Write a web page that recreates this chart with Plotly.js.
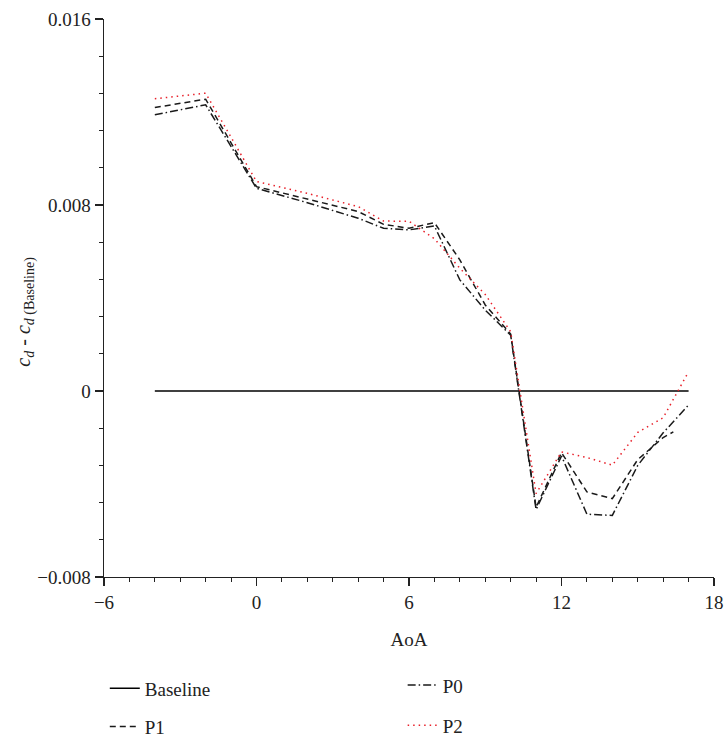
<!DOCTYPE html>
<html>
<head>
<meta charset="utf-8">
<script src="https://cdn.plot.ly/plotly-3.0.1.min.js"></script>
<style>html,body{margin:0;padding:0;background:#fff;}#chart{width:728px;height:744px;}</style>
</head>
<body>
<div id="chart"></div>
<script>
// Data (drag coefficient difference vs angle of attack)
const aoaBaseline = [-4, 17];
const baseline = [0, 0];

const aoaP0 = [-4, -2, 0, 2, 4, 5, 6, 7, 8, 9, 10, 11, 12, 13, 14, 15, 16, 17];
const p0 = [0.01188, 0.01231, 0.00872, 0.00810, 0.00743, 0.00700, 0.00693, 0.00710, 0.00478, 0.00348, 0.00240,
            -0.00510, -0.00280, -0.00530, -0.00535, -0.00320, -0.00180, -0.00060];

const aoaP1 = [-4, -2, 0, 2, 4, 5, 6, 7, 8, 9, 10, 11, 12, 13, 14, 15, 16, 16.4];
const p1 = [0.01219, 0.01255, 0.00879, 0.00825, 0.00772, 0.00717, 0.00700, 0.00724, 0.00564, 0.00370, 0.00245,
            -0.00500, -0.00265, -0.00434, -0.00463, -0.00295, -0.00200, -0.00176];

const aoaP2 = [-4, -2, 0, 2, 4, 5, 6, 7, 8, 9, 10, 11, 12, 13, 14, 15, 16, 17];
const p2 = [0.01257, 0.01281, 0.00901, 0.00850, 0.00793, 0.00731, 0.00730, 0.00655, 0.00528, 0.00415, 0.00255,
            -0.00441, -0.00262, -0.00286, -0.00319, -0.00178, -0.00115, 0.00083];

const yTitle = "<i>c</i><sub><i>d</i></sub> - <i>c</i><sub><i>d</i> (Baseline)</sub>";
const xTitle = "AoA";

const FONT = "Liberation Serif, DejaVu Serif, serif";
const FS = 19;

const traces = [
  {x: aoaBaseline, y: baseline, name: "Baseline", mode: "lines",
   line: {color: "#000", width: 1.4}, legend: "legend"},
  {x: aoaP1, y: p1, name: "P1", mode: "lines",
   line: {color: "#1a1a1a", width: 1.5, dash: "6px,4px"}, legend: "legend2"},
  {x: aoaP0, y: p0, name: "P0", mode: "lines",
   line: {color: "#1a1a1a", width: 1.5, dash: "8px,3px,1.5px,3px"}, legend: "legend3"},
  {x: aoaP2, y: p2, name: "P2", mode: "lines",
   line: {color: "#e8202a", width: 1.5, dash: "1.5px,4px"}, legend: "legend4"}
];

function leg(x, y) {
  return {x: x, y: y, xanchor: "left", yanchor: "middle", bgcolor: "rgba(0,0,0,0)",
          font: {family: FONT, size: FS, color: "#222"}, itemwidth: 30};
}

const layout = {
  width: 728, height: 744,
  margin: {l: 104, r: 14, t: 19, b: 167, autoexpand: false},
  paper_bgcolor: "#fff", plot_bgcolor: "#fff",
  font: {family: FONT, size: FS, color: "#222"},
  showlegend: true,
  xaxis: {
    range: [-6, 18], dtick: 6, tick0: -6, ticks: "outside", ticklen: 8, tickwidth: 1.2,
    tickcolor: "#222", showline: true, linecolor: "#222", linewidth: 1.4,
    showgrid: false, zeroline: false, automargin: false,
    minor: {dtick: 1, ticks: "outside", ticklen: 4, tickwidth: 1.1, tickcolor: "#222", showgrid: false},
    tickfont: {family: FONT, size: FS, color: "#222"},
    title: {text: xTitle, font: {family: FONT, size: FS, color: "#222"}, standoff: 20}
  },
  yaxis: {
    range: [-0.008, 0.016], dtick: 0.008, tick0: 0, ticks: "outside", ticklen: 8, tickwidth: 1.2,
    tickcolor: "#222", showline: true, linecolor: "#222", linewidth: 1.4,
    showgrid: false, zeroline: false, automargin: false,
    minor: {dtick: 0.0016, ticks: "outside", ticklen: 4, tickwidth: 1.1, tickcolor: "#222", showgrid: false},
    tickfont: {family: FONT, size: FS, color: "#222"}
  },
  annotations: [{
    text: yTitle, xref: "paper", yref: "paper", x: -0.13, y: 0.475,
    xanchor: "center", yanchor: "middle", textangle: -90, showarrow: false,
    font: {family: FONT, size: 20, color: "#222"}
  }],
  legend: leg(0.0013, -0.1997),
  legend2: leg(0.0013, -0.268),
  legend3: leg(0.4896, -0.194),
  legend4: leg(0.4896, -0.266)
};

Plotly.newPlot("chart", traces, layout, {displayModeBar: false, staticPlot: true});
</script>
</body>
</html>
